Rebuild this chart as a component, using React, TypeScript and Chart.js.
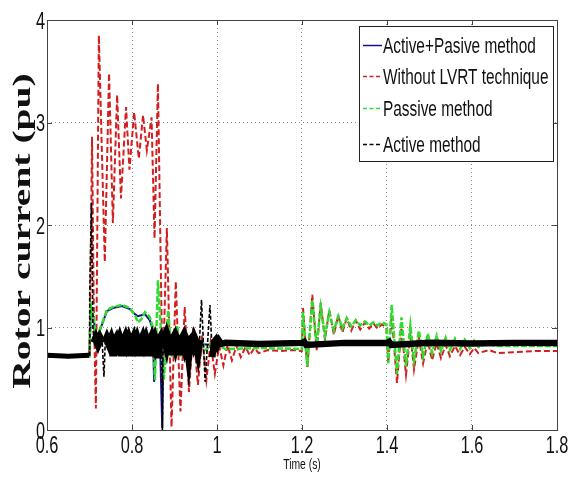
import React, { useEffect, useRef } from "react";
import { Chart, registerables } from "chart.js";

Chart.register(...registerables);

// ---- axis ticks ----
const xTickValues = [0.6, 0.8, 1.0, 1.2, 1.4, 1.6, 1.8];
const xTickLabels = ["0.6", "0.8", "1", "1.2", "1.4", "1.6", "1.8"];
const yTickValues = [0, 1, 2, 3, 4];
const yTickLabels = ["0", "1", "2", "3", "4"];

const xTitle = "Time (s)";
const yTitle = "Rotor current (pu)";

const seriesNames = [
  "Active+Pasive method",
  "Without LVRT technique",
  "Passive method",
  "Active method",
];

// ---- series: [time (s), rotor current (pu)] ----
const activePassive: [number, number][] = [
  [0.6, 0.72], [0.6995, 0.72], [0.7035, 1.18], [0.709, 1.1], [0.716, 0.9], [0.725, 0.98],
  [0.741, 1.16], [0.755, 1.19], [0.7765, 1.21], [0.795, 1.18], [0.807, 1.13], [0.814, 1.11],
  [0.822, 1.12], [0.8306, 1.13], [0.842, 1.07], [0.849, 0.98], [0.852, 0.47], [0.857, 0.86],
  [0.866, 0.84], [0.8712, 0.02], [0.874, 0.84], [0.9, 0.83], [0.95, 0.84], [1.0, 0.83],
  [1.2, 0.84], [1.4, 0.83], [1.6, 0.84], [1.8, 0.84],
];

const withoutLvrt: [number, number][] = [
  [0.6, 0.72], [0.65, 0.71], [0.6995, 0.72],
  [0.7025, 1.5], [0.706, 2.86], [0.71, 1.2], [0.715, 0.21], [0.722, 3.85], [0.736, 1.64],
  [0.746, 3.48], [0.755, 2.02], [0.765, 3.27], [0.774, 2.26], [0.786, 3.15], [0.794, 2.54],
  [0.805, 3.1], [0.816, 2.65], [0.826, 3.07], [0.835, 2.73], [0.846, 3.05], [0.853, 1.87],
  [0.861, 3.38], [0.872, 0.45], [0.882, 1.97], [0.893, 0.03], [0.903, 1.45], [0.914, 0.18],
  [0.924, 1.2], [0.934, 0.37], [0.944, 1.0], [0.955, 0.44], [0.965, 0.92], [0.975, 0.49],
  [0.985, 0.85], [0.995, 0.55], [1.005, 0.82], [1.015, 0.63], [1.025, 0.83], [1.035, 0.68],
  [1.046, 0.82], [1.056, 0.71], [1.067, 0.81], [1.077, 0.73], [1.088, 0.8], [1.098, 0.75],
  [1.12, 0.78], [1.15, 0.77], [1.18, 0.78], [1.1995, 0.77],
  [1.2024, 1.19], [1.2125, 0.6], [1.2242, 1.32], [1.2345, 0.78], [1.244, 1.24], [1.254, 0.88],
  [1.2642, 1.17], [1.275, 0.93], [1.2854, 1.12], [1.295, 0.95], [1.3052, 1.09], [1.316, 0.97],
  [1.3264, 1.07], [1.337, 0.98], [1.3482, 1.05], [1.358, 0.99], [1.3678, 1.04], [1.378, 0.99],
  [1.3875, 1.03], [1.3985, 1.0],
  [1.403, 0.66], [1.411, 1.12], [1.4235, 0.46], [1.434, 1.0], [1.4447, 0.54], [1.455, 0.94],
  [1.4635, 0.59], [1.475, 0.9], [1.485, 0.65], [1.496, 0.87], [1.506, 0.68], [1.517, 0.85],
  [1.527, 0.7], [1.538, 0.83], [1.548, 0.72], [1.56, 0.82], [1.572, 0.73], [1.583, 0.81],
  [1.595, 0.74], [1.605, 0.8], [1.615, 0.75], [1.64, 0.78], [1.66, 0.75], [1.7, 0.76],
  [1.75, 0.77], [1.8, 0.77],
];

const passive: [number, number][] = [
  [0.6, 0.72], [0.6995, 0.72], [0.7035, 1.21], [0.709, 1.12], [0.716, 0.88], [0.725, 0.99],
  [0.741, 1.17], [0.755, 1.2], [0.7765, 1.22], [0.795, 1.19], [0.807, 1.12], [0.814, 1.05],
  [0.822, 1.08], [0.8306, 1.15], [0.842, 1.1], [0.849, 1.0], [0.854, 0.49], [0.861, 1.46],
  [0.875, 0.49], [0.885, 1.17], [0.894, 0.71], [0.906, 1.02], [0.913, 0.71], [0.925, 0.95],
  [0.936, 0.76], [0.944, 0.9], [0.955, 0.78], [0.965, 0.86], [0.975, 0.78], [0.985, 0.84],
  [0.995, 0.79], [1.005, 0.82], [1.02, 0.79], [1.1, 0.8], [1.1995, 0.79],
  [1.2024, 1.15], [1.2125, 0.62], [1.2242, 1.27], [1.2345, 0.82], [1.244, 1.2], [1.254, 0.92],
  [1.2642, 1.15], [1.275, 0.97], [1.2854, 1.11], [1.295, 0.99], [1.3052, 1.09], [1.316, 1.01],
  [1.3264, 1.07], [1.337, 1.02], [1.3482, 1.06], [1.358, 1.02], [1.3678, 1.05], [1.378, 1.02],
  [1.3875, 1.05], [1.3985, 1.03],
  [1.403, 0.65], [1.411, 1.22], [1.4235, 0.55], [1.434, 1.1], [1.4447, 0.62], [1.455, 1.02],
  [1.4635, 0.68], [1.475, 0.97], [1.485, 0.72], [1.496, 0.94], [1.506, 0.75], [1.517, 0.92],
  [1.527, 0.77], [1.538, 0.9], [1.548, 0.78], [1.56, 0.89], [1.572, 0.79], [1.583, 0.88],
  [1.595, 0.8], [1.605, 0.87], [1.615, 0.81], [1.63, 0.84], [1.66, 0.82], [1.7, 0.82],
  [1.75, 0.82], [1.8, 0.82],
];

const active: [number, number][] = [
  [0.6, 0.73], [0.65, 0.72], [0.699, 0.73],
  [0.7005, 1.3], [0.7045, 2.22], [0.708, 1.0],
  [0.711, 0.85], [0.715, 0.89], [0.72, 0.84], [0.725, 0.89], [0.73, 0.85],
  [0.734, 0.52], [0.737, 0.85], [0.741, 0.89], [0.746, 0.84], [0.751, 0.89], [0.754, 0.85],
  [0.756, 0.72], [0.759, 0.86], [0.763, 0.89], [0.767, 0.84], [0.771, 0.89], [0.774, 0.85],
  [0.777, 0.72], [0.78, 0.86], [0.784, 0.9], [0.788, 0.84], [0.792, 0.89], [0.795, 0.85],
  [0.797, 0.72], [0.8, 0.86], [0.804, 0.9], [0.808, 0.84], [0.812, 0.89], [0.815, 0.85],
  [0.818, 0.72], [0.821, 0.86], [0.825, 0.9], [0.829, 0.84], [0.833, 0.89], [0.836, 0.85],
  [0.839, 0.72], [0.842, 0.86], [0.846, 0.9], [0.85, 0.84], [0.854, 0.89], [0.857, 0.85],
  [0.86, 0.7], [0.863, 0.87], [0.867, 0.9], [0.87, 0.85],
  [0.8715, 0.0], [0.873, 0.86], [0.877, 0.9], [0.881, 0.83], [0.884, 0.9], [0.888, 0.85],
  [0.891, 0.73], [0.894, 0.87], [0.898, 0.9], [0.902, 0.83], [0.905, 0.89], [0.909, 0.85],
  [0.912, 0.73], [0.915, 0.87], [0.919, 0.9], [0.923, 0.83], [0.926, 0.89], [0.93, 0.85],
  [0.933, 0.75], [0.936, 0.87], [0.94, 0.89], [0.944, 0.84], [0.947, 0.89], [0.951, 0.85],
  [0.955, 0.77], [0.959, 0.88], [0.9635, 1.27], [0.972, 0.47], [0.9835, 1.22], [0.989, 0.71],
  [0.993, 0.86], [0.997, 0.88], [1.001, 0.83], [1.005, 0.87], [1.01, 0.84], [1.02, 0.85],
  [1.1, 0.84], [1.2, 0.85], [1.205, 0.86], [1.21, 0.83], [1.3, 0.85], [1.4, 0.85],
  [1.405, 0.86], [1.41, 0.83], [1.5, 0.85], [1.6, 0.845], [1.7, 0.85], [1.8, 0.85],
];

// ---- styles ----
const SANS = '"Liberation Sans", Arial, sans-serif';
const SERIF = '"Liberation Serif", "DejaVu Serif", serif';
const SX = 0.71; // horizontal squeeze of the original figure
const BLUE = "#12128f";
const RED = "#d11f1f";
const GREEN = "#2fdc2f";
const BLACK = "#000000";
const TEXT = "#111";

const toPoints = (arr: [number, number][]) => arr.map(([x, y]) => ({ x, y }));

const spikeSeg = (c: any) => {
  const a = c.p0.parsed.y;
  const b = c.p1.parsed.y;
  return Math.max(a, b) > 0.97 || Math.min(a, b) < 0.6;
};
const bandWidth = (c: any) => {
  const t = c.p0.parsed.x;
  if (t < 0.7) return 5;
  if (t < 0.96) return 8;
  return 6.5;
};

const squeezedText = (
  ctx: CanvasRenderingContext2D,
  text: string,
  x: number,
  y: number,
  align: CanvasTextAlign,
  font: string,
  sx: number
) => {
  ctx.save();
  ctx.translate(x, y);
  ctx.scale(sx, 1);
  ctx.font = font;
  ctx.fillStyle = TEXT;
  ctx.textAlign = align;
  ctx.textBaseline = "alphabetic";
  ctx.fillText(text, 0, 0);
  ctx.restore();
};

const framePlugin = {
  id: "frame",
  afterDatasetsDraw(chart: any) {
    const { ctx, chartArea: a, scales } = chart;
    ctx.save();
    ctx.strokeStyle = "#444";
    ctx.lineWidth = 1;
    ctx.setLineDash([]);
    ctx.strokeRect(Math.round(a.left) + 0.5, Math.round(a.top) + 0.5, Math.round(a.right - a.left), Math.round(a.bottom - a.top));
    const tl = 5;
    ctx.beginPath();
    xTickValues.forEach((v) => {
      const px = Math.round(scales.x.getPixelForValue(v)) + 0.5;
      ctx.moveTo(px, a.bottom);
      ctx.lineTo(px, a.bottom - tl);
      ctx.moveTo(px, a.top);
      ctx.lineTo(px, a.top + tl);
    });
    yTickValues.forEach((v) => {
      const py = Math.round(scales.y.getPixelForValue(v)) + 0.5;
      ctx.moveTo(a.left, py);
      ctx.lineTo(a.left + tl, py);
      ctx.moveTo(a.right, py);
      ctx.lineTo(a.right - tl, py);
    });
    ctx.stroke();
    ctx.restore();
  },
};

const labelsPlugin = {
  id: "axisLabels",
  afterDraw(chart: any) {
    const { ctx, chartArea: a, scales } = chart;
    const tickFont = `23px ${SANS}`;
    xTickValues.forEach((v, i) => {
      squeezedText(ctx, xTickLabels[i], scales.x.getPixelForValue(v), a.bottom + 23, "center", tickFont, SX);
    });
    yTickValues.forEach((v, i) => {
      squeezedText(ctx, yTickLabels[i], a.left - 2, scales.y.getPixelForValue(v) + 8.5, "right", tickFont, SX);
    });
    squeezedText(ctx, xTitle, (a.left + a.right) / 2, a.bottom + 39, "center", `14px ${SANS}`, 0.74);

    ctx.save();
    ctx.translate(23, (a.top + a.bottom) / 2 + 6);
    ctx.rotate(-Math.PI / 2);
    ctx.scale(1.52, 1);
    ctx.font = `bold 26px ${SERIF}`;
    ctx.fillStyle = TEXT;
    ctx.textAlign = "center";
    ctx.textBaseline = "middle";
    ctx.fillText(yTitle, 0, 0);
    ctx.restore();
  },
};

const legendPlugin = {
  id: "boxLegend",
  afterDraw(chart: any) {
    const { ctx } = chart;
    const bx = 359.5, by = 26.5, bw = 194, bh = 135;
    ctx.save();
    ctx.fillStyle = "#ffffff";
    ctx.fillRect(bx, by, bw, bh);
    ctx.strokeStyle = "#222";
    ctx.lineWidth = 1;
    ctx.setLineDash([]);
    ctx.strokeRect(bx, by, bw, bh);
    const rows = [45, 76, 108, 144];
    const styles = [
      { color: BLUE, dash: [] as number[] },
      { color: RED, dash: [4, 2.5] },
      { color: GREEN, dash: [4, 2.5] },
      { color: BLACK, dash: [4, 2.5] },
    ];
    seriesNames.forEach((name, i) => {
      const y = rows[i];
      const s = styles[i];
      ctx.strokeStyle = s.color;
      ctx.lineWidth = 1.5;
      ctx.setLineDash(s.dash);
      ctx.beginPath();
      ctx.moveTo(363, y + 0.5);
      ctx.lineTo(382, y + 0.5);
      ctx.stroke();
      ctx.setLineDash([]);
      squeezedText(ctx, name, 383, y + 8, "left", `22px ${SANS}`, 0.7);
    });
    ctx.restore();
  },
};

export default function App() {
  const ref = useRef<HTMLCanvasElement | null>(null);

  useEffect(() => {
    if (!ref.current) return;
    const chart = new Chart(ref.current, {
      type: "line",
      data: {
        datasets: [
          {
            label: seriesNames[0],
            data: toPoints(activePassive),
            borderColor: BLUE,
            borderWidth: 2,
            pointRadius: 0,
            order: 4,
          },
          {
            label: seriesNames[1],
            data: toPoints(withoutLvrt),
            borderColor: RED,
            borderWidth: 2,
            borderDash: [6, 3],
            pointRadius: 0,
            order: 3,
          },
          {
            label: seriesNames[2],
            data: toPoints(passive),
            borderColor: GREEN,
            borderWidth: 2.5,
            borderDash: [6, 2],
            pointRadius: 0,
            order: 2,
          },
          {
            label: seriesNames[3],
            data: toPoints(active),
            borderColor: BLACK,
            borderWidth: 6,
            borderDash: [],
            pointRadius: 0,
            order: 1,
            segment: {
              borderWidth: (c: any) => (spikeSeg(c) ? 1.6 : bandWidth(c)),
              borderDash: (c: any) => (spikeSeg(c) ? [4, 2] : []),
            },
          },
        ],
      },
      options: {
        responsive: false,
        animation: false,
        events: [],
        layout: { padding: { top: 20, right: 11, left: 0, bottom: 0 } },
        plugins: {
          legend: { display: false },
          tooltip: { enabled: false },
        },
        scales: {
          x: {
            type: "linear",
            min: 0.6,
            max: 1.8,
            afterBuildTicks: (s: any) => {
              s.ticks = xTickValues.map((v) => ({ value: v }));
            },
            afterFit: (s: any) => {
              s.height = 49;
            },
            ticks: { display: false },
            grid: { color: "#8a8a8a", lineWidth: 1, drawTicks: false },
            border: { display: false, dash: [1, 3] },
          },
          y: {
            type: "linear",
            min: 0,
            max: 4,
            afterBuildTicks: (s: any) => {
              s.ticks = yTickValues.map((v) => ({ value: v }));
            },
            afterFit: (s: any) => {
              s.width = 47;
            },
            ticks: { display: false },
            grid: { color: "#8a8a8a", lineWidth: 1, drawTicks: false },
            border: { display: false, dash: [1, 3] },
          },
        },
      },
      plugins: [framePlugin, legendPlugin, labelsPlugin],
    } as any);
    return () => chart.destroy();
  }, []);

  return (
    <div style={{ position: "fixed", left: 0, top: 0, width: 568, height: 479, background: "#fff" }}>
      <canvas ref={ref} width={568} height={479} style={{ display: "block" }} />
    </div>
  );
}
